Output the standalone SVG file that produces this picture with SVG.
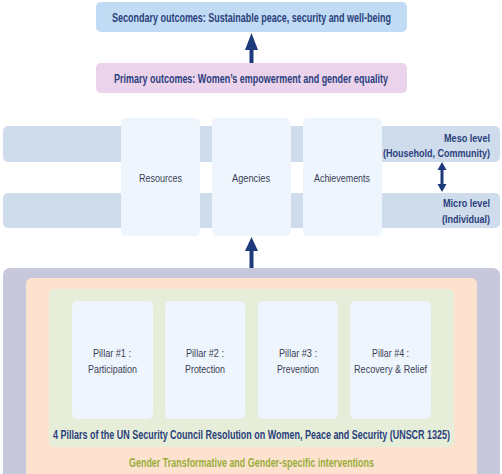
<svg xmlns="http://www.w3.org/2000/svg" width="502" height="474" viewBox="0 0 502 474">
<style>
text{font-family:"Liberation Sans",Arial,sans-serif;}
.b{font-weight:bold;fill:#2b3f7c;font-size:13.5px;}
.n{fill:#3a3d55;font-size:11.8px;}
.lv{font-weight:bold;fill:#2b3f7c;font-size:11.8px;text-anchor:end;}
.c{text-anchor:middle;}
.wbox{fill:#eef5fd;}
.band{fill:#cfdceb;}
.arr{fill:#1f3a7a;}
</style>
<rect width="502" height="474" fill="#ffffff"/>
<g id="secondary">
<rect x="96" y="2" width="311" height="30" rx="5" fill="#c0dbf3"/>
<text class="b c" transform="translate(251.5,22) scale(0.66,1)" textLength="422.7" lengthAdjust="spacingAndGlyphs">Secondary outcomes: Sustainable peace, security and well-being</text>
</g>
<g id="primary">
<rect x="96" y="63" width="311" height="30" rx="5" fill="#ecd3ec"/>
<text class="b c" transform="translate(251,83) scale(0.66,1)" textLength="415.2" lengthAdjust="spacingAndGlyphs">Primary outcomes: Women’s empowerment and gender equality</text>
</g>
<g id="meso">
<rect class="band" x="3" y="126" width="497" height="36" rx="5"/>
<text class="lv" transform="translate(490,141.5) scale(0.66,1)" textLength="69.7" lengthAdjust="spacingAndGlyphs">Meso level</text>
<text class="lv" transform="translate(490,157) scale(0.66,1)" textLength="162.1" lengthAdjust="spacingAndGlyphs">(Household, Community)</text>
</g>
<g id="micro">
<rect class="band" x="3" y="193" width="497" height="35" rx="5"/>
<text class="lv" transform="translate(490,207) scale(0.66,1)" textLength="71.2" lengthAdjust="spacingAndGlyphs">Micro level</text>
<text class="lv" transform="translate(490,222.5) scale(0.66,1)" textLength="72.7" lengthAdjust="spacingAndGlyphs">(Individual)</text>
</g>
<g id="resources">
<rect class="wbox" x="121" y="118" width="79" height="118" rx="5"/>
<text class="n c" transform="translate(160.5,182) scale(0.66,1)" textLength="65.2" lengthAdjust="spacingAndGlyphs">Resources</text>
</g>
<g id="agencies">
<rect class="wbox" x="212" y="118" width="79" height="118" rx="5"/>
<text class="n c" transform="translate(251,182) scale(0.66,1)" textLength="57.6" lengthAdjust="spacingAndGlyphs">Agencies</text>
</g>
<g id="achievements">
<rect class="wbox" x="303" y="118" width="79" height="118" rx="5"/>
<text class="n c" transform="translate(342,182) scale(0.66,1)" textLength="84.8" lengthAdjust="spacingAndGlyphs">Achievements</text>
</g>
<g id="interventions">
<rect x="3" y="268" width="497" height="220" rx="7" fill="#c8c8dc"/>
<rect x="26" y="278" width="451" height="210" rx="6" fill="#fde3cf"/>
<text class="c" transform="translate(251.5,466.5) scale(0.66,1)" font-size="13" font-weight="bold" fill="#9aad3c" textLength="371.2" lengthAdjust="spacingAndGlyphs">Gender Transformative and Gender-specific interventions</text>
</g>
<g id="unscr">
<rect x="49" y="289" width="405" height="158" rx="6" fill="#e6edd8"/>
<text class="b c" transform="translate(251.5,438.5) scale(0.66,1)" font-size="13" textLength="601.5" lengthAdjust="spacingAndGlyphs">4 Pillars of the UN Security Council Resolution on Women, Peace and Security (UNSCR 1325)</text>
</g>
<g id="pillar1">
<rect class="wbox" x="72" y="301" width="81" height="118" rx="5"/>
<text class="n c" transform="translate(112,356.5) scale(0.66,1)" textLength="57.6" lengthAdjust="spacingAndGlyphs">Pillar #1 :</text>
<text class="n c" transform="translate(112.5,372.5) scale(0.66,1)" textLength="74.2" lengthAdjust="spacingAndGlyphs">Participation</text>
</g>
<g id="pillar2">
<rect class="wbox" x="165" y="301" width="80" height="118" rx="5"/>
<text class="n c" transform="translate(205,356.5) scale(0.66,1)" textLength="57.6" lengthAdjust="spacingAndGlyphs">Pillar #2 :</text>
<text class="n c" transform="translate(205,372.5) scale(0.66,1)" textLength="60.6" lengthAdjust="spacingAndGlyphs">Protection</text>
</g>
<g id="pillar3">
<rect class="wbox" x="258" y="301" width="80" height="118" rx="5"/>
<text class="n c" transform="translate(298,356.5) scale(0.66,1)" textLength="57.6" lengthAdjust="spacingAndGlyphs">Pillar #3 :</text>
<text class="n c" transform="translate(298,372.5) scale(0.66,1)" textLength="63.6" lengthAdjust="spacingAndGlyphs">Prevention</text>
</g>
<g id="pillar4">
<rect class="wbox" x="350" y="301" width="81" height="118" rx="5"/>
<text class="n c" transform="translate(390.5,356.5) scale(0.66,1)" textLength="56.1" lengthAdjust="spacingAndGlyphs">Pillar #4 :</text>
<text class="n c" transform="translate(390.5,372.5) scale(0.66,1)" textLength="110.6" lengthAdjust="spacingAndGlyphs">Recovery &amp; Relief</text>
</g>
<g id="connectors">
<rect class="arr" x="249.5" y="49" width="4" height="14"/>
<polygon class="arr" points="251.5,33 258,50 245,50"/>
<rect class="arr" x="249.5" y="250" width="4" height="18"/>
<polygon class="arr" points="251.5,237 258,251 245,251"/>
<rect class="arr" x="440.5" y="168" width="3" height="18"/>
<polygon class="arr" points="442,162 446.5,170 437.5,170"/>
<polygon class="arr" points="442,192 446.5,184 437.5,184"/>
</g>
</svg>
